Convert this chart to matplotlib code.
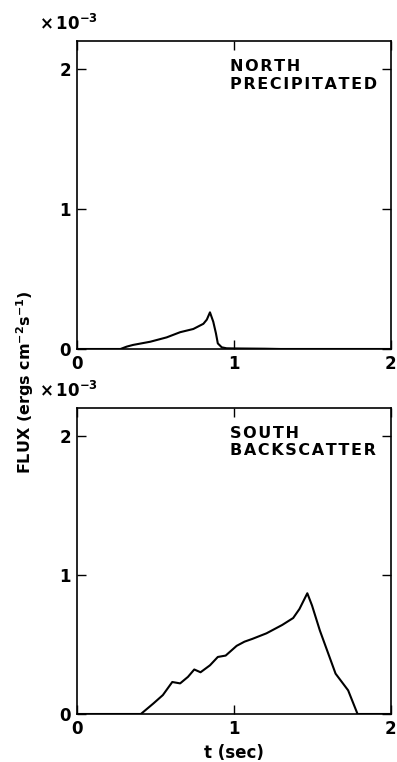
import matplotlib

matplotlib.use("Agg")

import matplotlib.pyplot as plt

# Energy flux vs time, in units of 1e-3 ergs cm^-2 s^-1
north_t = [0.0, 0.28, 0.32, 0.36, 0.47, 0.574, 0.66, 0.744, 0.808, 0.83, 0.85,
           0.871, 0.888, 0.90, 0.925, 0.956, 1.0, 1.1, 1.2, 1.3, 2.0]
north_flux = [0.0, 0.0, 0.017, 0.029, 0.052, 0.083, 0.12, 0.143, 0.18, 0.21, 0.262,
              0.195, 0.112, 0.04, 0.012, 0.005, 0.004, 0.003, 0.002, 0.0, 0.0]

south_t = [0.0, 0.41, 0.49, 0.55, 0.61, 0.66, 0.71, 0.75, 0.79, 0.85, 0.90, 0.95,
           1.02, 1.07, 1.12, 1.21, 1.31, 1.38, 1.42, 1.47, 1.50, 1.55, 1.60,
           1.65, 1.73, 1.79, 2.0]
south_flux = [0.0, 0.0, 0.076, 0.136, 0.23, 0.22, 0.267, 0.32, 0.30, 0.35, 0.41,
              0.42, 0.49, 0.52, 0.54, 0.58, 0.64, 0.69, 0.755, 0.868, 0.78, 0.60,
              0.445, 0.29, 0.17, 0.0, 0.0]

panel_labels = ["NORTH\nPRECIPITATED", "SOUTH\nBACKSCATTER"]
x_ticks = [0, 1, 2]
y_ticks = [0, 1, 2]


def spaced(s):
    # widen the lettering a little with hair spaces
    return "\n".join("\u200a".join(line) for line in s.split("\n"))


plt.rcParams["font.family"] = "DejaVu Sans"
plt.rcParams["font.weight"] = "bold"
plt.rcParams["mathtext.default"] = "bf"

fig = plt.figure(figsize=(3.97, 7.62), dpi=100)
ax_top = fig.add_axes([0.1927, 0.542, 0.791, 0.404])
ax_bot = fig.add_axes([0.1927, 0.063, 0.791, 0.4016])

series = [(north_t, north_flux), (south_t, south_flux)]
for ax, (t, f), label in zip([ax_top, ax_bot], series, panel_labels):
    ax.plot(t, f, color="black", lw=1.5, solid_joinstyle="round")
    ax.set_xlim(0, 2)
    ax.set_ylim(0, 2.2)
    ax.set_xticks(x_ticks)
    ax.set_yticks(y_ticks)
    ax.set_xticklabels([str(v) for v in x_ticks])
    ax.set_yticklabels([str(v) for v in y_ticks])
    ax.tick_params(direction="in", length=6.5, width=1.0, top=True, right=True,
                   labelsize=12, pad=4)
    for s in ax.spines.values():
        s.set_linewidth(1.2)
    ax.text(0.98, 1.955, spaced(label), fontsize=11.5, fontweight="bold", ha="left",
            va="center", linespacing=1.2)
    ax.text(-0.12, 1.055, r"$\times\,10^{-3}$", transform=ax.transAxes,
            fontsize=12, ha="left", va="center")

ax_bot.set_xlabel("t (sec)", fontsize=12, fontweight="bold", labelpad=5)
fig.text(25 / 397, 1 - 382 / 762, r"FLUX (ergs cm$^{-2}$s$^{-1}$)",
         rotation=90, ha="center", va="center", fontsize=11.5, fontweight="bold")

fig.savefig("out.png", dpi=100)
